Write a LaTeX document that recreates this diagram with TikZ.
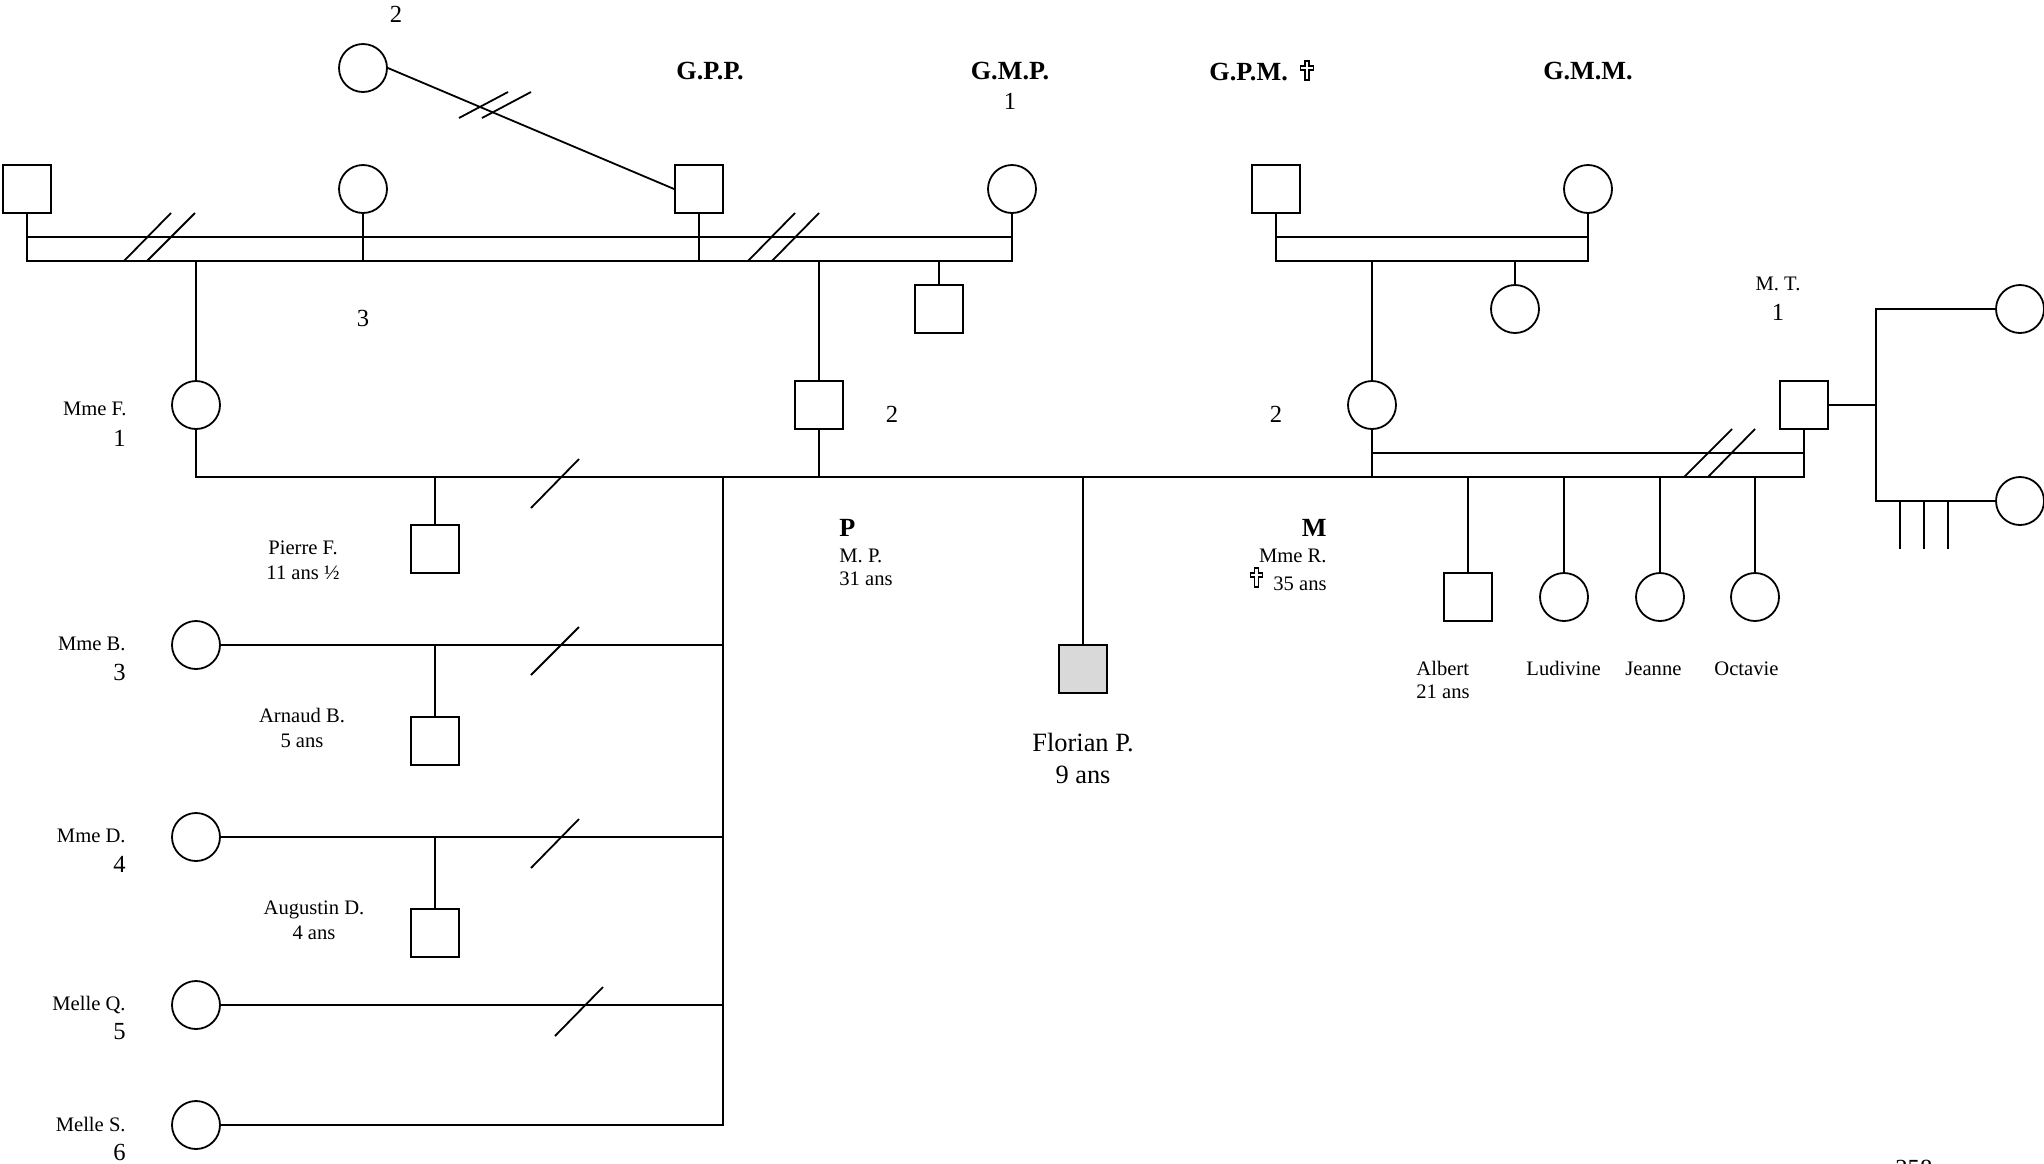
\documentclass[tikz,border=0pt]{standalone}
\usepackage{fontspec}
\setmainfont{Liberation Serif}
\begin{document}
\begin{tikzpicture}[x=0.5pt,y=-0.5pt]
\tikzset{
 fem/.style={circle, draw, line width=0.9pt, minimum size=24pt, inner sep=0pt},
 mal/.style={rectangle, draw, line width=0.9pt, minimum size=24pt, inner sep=0pt},
 lbl/.style={inner sep=0pt, font=\fontsize{10.3}{12}\selectfont},
 num/.style={inner sep=0pt, font=\fontsize{12.3}{14}\selectfont},
 head/.style={inner sep=0pt, font=\fontsize{13.1}{15}\selectfont\bfseries},
 big/.style={inner sep=0pt, font=\fontsize{13.2}{15}\selectfont},
 link/.style={line width=0.9pt},
 hatch/.style={line width=0.9pt},
 crux/.pic={\draw[line width=0.55pt, line join=miter] (-2,0) -- (2,0) -- (2,-10) -- (6.2,-10) -- (6.2,-14) -- (2,-14) -- (2,-19) -- (-2,-19) -- (-2,-14) -- (-6.2,-14) -- (-6.2,-10) -- (-2,-10) -- cycle;},
}
\useasboundingbox (0,0) rectangle (2044,1163);
% levels
\coordinate (yt1) at (0,237);
\coordinate (yb1) at (0,261);
\coordinate (ytm) at (0,453);
\coordinate (ym) at (0,477);
\coordinate (vt) at (723,477);
\coordinate (tv) at (1876,0);
\coordinate (ys) at (0,549);
% persons
\node[fem] (cA) at (363,68) {};
\node[mal] (sC) at (27,189) {};
\node[fem] (cD) at (363,189) {};
\node[mal] (sB) at (699,189) {};
\node[fem] (cE) at (1012,189) {};
\node[mal] (sX) at (939,309) {};
\node[fem] (cF) at (196,405) {};
\node[mal] (sP) at (819,405) {};
\node[mal] (sG) at (1276,189) {};
\node[fem] (cH) at (1588,189) {};
\node[fem] (cI) at (1515,309) {};
\node[fem] (cM) at (1372,405) {};
\node[mal] (sT) at (1804,405) {};
\node[fem] (cT1) at (2020,309) {};
\node[fem] (cT2) at (2020,501) {};
\node[mal] (sPi) at (435,549) {};
\node[fem] (cB) at (196,645) {};
\node[mal] (sAr) at (435,741) {};
\node[fem] (cDd) at (196,837) {};
\node[mal] (sAu) at (435,933) {};
\node[fem] (cQ) at (196,1005) {};
\node[fem] (cS) at (196,1125) {};
\node[mal, fill=black!15] (sFl) at (1083,669) {};
\node[mal] (sAl) at (1468,597) {};
\node[fem] (cLu) at (1564,597) {};
\node[fem] (cJe) at (1660,597) {};
\node[fem] (cOc) at (1755,597) {};
% paternal grandparents double line
\draw[link] (sC.south) -- (sC.south |- yb1) -- (cE.south |- yb1) -- (cE.south);
\draw[link] (sC.south |- yt1) -- (cE.south |- yt1);
\draw[link] (cD.south) -- (cD.south |- yb1);
\draw[link] (sB.south) -- (sB.south |- yb1);
\draw[link] (cF.north) -- (cF.north |- yb1);
\draw[link] (sP.north) -- (sP.north |- yb1);
\draw[link] (sX.north) -- (sX.north |- yb1);
\draw[hatch] (124,261) -- (171,213);
\draw[hatch] (147,261) -- (195,213);
\draw[hatch] (748,261) -- (795,213);
\draw[hatch] (772,261) -- (819,213);
% top link
\draw[link] (cA.east) -- (sB.west);
\draw[hatch] (459,118) -- (508,92);
\draw[hatch] (482,118) -- (531,92);
% maternal grandparents
\draw[link] (sG.south) -- (sG.south |- yb1) -- (cH.south |- yb1) -- (cH.south);
\draw[link] (sG.south |- yt1) -- (cH.south |- yt1);
\draw[link] (cM.north) -- (cM.north |- yb1);
\draw[link] (cI.north) -- (cI.north |- yb1);
% main line
\draw[link] (cF.south) -- (cF.south |- ym) -- (sT.south |- ym) -- (sT.south);
\draw[link] (sP.south) -- (sP.south |- ym);
\draw[link] (cM.south) -- (cM.south |- ym);
\draw[link] (cM.south |- ytm) -- (sT.south |- ytm);
\draw[hatch] (531,508) -- (579,459);
\draw[hatch] (1684,477) -- (1732,429);
\draw[hatch] (1708,477) -- (1755,429);
\draw[link] (sPi.north) -- (sPi.north |- ym);
\draw[link] (sFl.north) -- (sFl.north |- ym);
\draw[link] (sAl.north) -- (sAl.north |- ym);
\draw[link] (cLu.north) -- (cLu.north |- ym);
\draw[link] (cJe.north) -- (cJe.north |- ym);
\draw[link] (cOc.north) -- (cOc.north |- ym);
% father's other unions
\draw[link] (vt) -- (cS.east -| vt) -- (cS.east);
\draw[link] (cB.east) -- (cB.east -| vt);
\draw[link] (cDd.east) -- (cDd.east -| vt);
\draw[link] (cQ.east) -- (cQ.east -| vt);
\draw[link] (sAr.north) -- (sAr.north |- cB.east);
\draw[link] (sAu.north) -- (sAu.north |- cDd.east);
\draw[hatch] (531,675) -- (579,627);
\draw[hatch] (531,868) -- (579,819);
\draw[hatch] (555,1036) -- (603,987);
% M. T.
\draw[link] (sT.east) -- (sT.east -| tv);
\draw[link] (cT1.west) -- (cT1.west -| tv) -- (cT2.west -| tv) -- (cT2.west);
\coordinate (k1) at (1900,501);
\coordinate (k2) at (1924,501);
\coordinate (k3) at (1948,501);
\draw[link] (k1) -- (k1 |- ys);
\draw[link] (k2) -- (k2 |- ys);
\draw[link] (k3) -- (k3 |- ys);
% texts
\node[num, anchor=base] (t2a) at (396,22) {2};
\node[head, anchor=base] (tGPP) at (710,79) {G.P.P.};
\node[head, anchor=base] (tGMP) at (1010,79) {G.M.P.};
\node[num, anchor=base] (t1a) at (1010,109) {1};
\node[head, anchor=base west] (tGPM) at (1209,80) {G.P.M.};
\pic at (1307,80) {crux};
\node[head, anchor=base] (tGMM) at (1588,79) {G.M.M.};
\node[num, anchor=base] (t3) at (363,326) {3};
\node[num, anchor=base] (t2b) at (892,422) {2};
\node[num, anchor=base] (t2c) at (1276,422) {2};
\node[lbl, anchor=base] (tMT) at (1778,290) {M. T.};
\node[num, anchor=base] (t1b) at (1778,320) {1};
\node[lbl, anchor=base east] (tMF) at (127,415) {Mme F.};
\node[num, anchor=base east] (t1c) at (126,446) {1};
\node[head, anchor=base west] (tP) at (839,536) {P};
\node[lbl, anchor=base west] (tMP) at (839,562) {M. P.};
\node[lbl, anchor=base west] (t31) at (839,585) {31 ans};
\node[head, anchor=base east] (tM) at (1327,536) {M};
\node[lbl, anchor=base east] (tMR) at (1327,562) {Mme R.};
\node[lbl, anchor=base east] (t35) at (1327,590) {35 ans};
\pic at (1256.5,587) {crux};
\node[lbl, anchor=base] (tPi) at (303,554) {Pierre F.};
\node[lbl, anchor=base] (tPi2) at (303,579) {11 ans ½};
\node[lbl, anchor=base] (tAr) at (302,722) {Arnaud B.};
\node[lbl, anchor=base] (tAr2) at (302,747) {5 ans};
\node[lbl, anchor=base] (tAu) at (314,914) {Augustin D.};
\node[lbl, anchor=base] (tAu2) at (314,939) {4 ans};
\node[lbl, anchor=base east] (tMB) at (126,650) {Mme B.};
\node[num, anchor=base east] (t3b) at (126,680) {3};
\node[lbl, anchor=base east] (tMD) at (126,842) {Mme D.};
\node[num, anchor=base east] (t4) at (126,872) {4};
\node[lbl, anchor=base east] (tMQ) at (126,1010) {Melle Q.};
\node[num, anchor=base east] (t5) at (126,1039) {5};
\node[lbl, anchor=base east] (tMS) at (126,1131) {Melle S.};
\node[num, anchor=base east] (t6) at (126,1160) {6};
\node[big, anchor=base] (tFl) at (1083,751) {Florian P.};
\node[big, anchor=base] (tFl2) at (1083,783) {9 ans};
\node[lbl, anchor=base west] (tAl) at (1416,675) {Albert};
\node[lbl, anchor=base west] (tAl2) at (1416,698) {21 ans};
\node[lbl, anchor=base west] (tLu) at (1526,675) {Ludivine};
\node[lbl, anchor=base west] (tJe) at (1625,675) {Jeanne};
\node[lbl, anchor=base west] (tOc) at (1714,675) {Octavie};
\node[num, anchor=base west] (tpg) at (1895,1176) {258};
\end{tikzpicture}
\end{document}
